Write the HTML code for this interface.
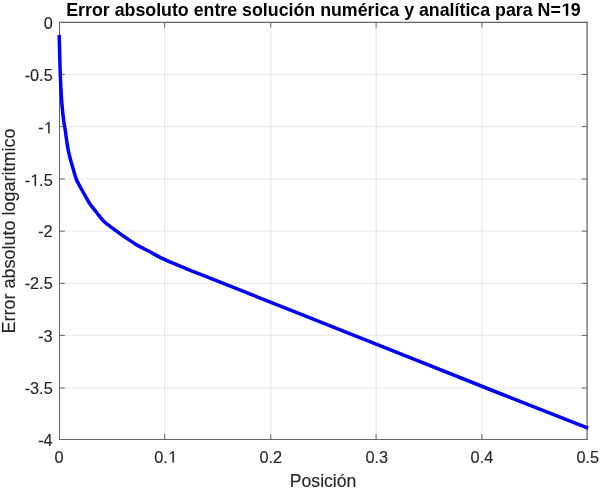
<!DOCTYPE html>
<html><head><meta charset="utf-8"><style>
html,body{margin:0;padding:0;background:#fff;width:600px;height:489px;overflow:hidden}
svg{display:block;filter:blur(0.4px);}
text{font-family:"Liberation Sans",sans-serif}
</style></head><body>
<svg width="600" height="489" viewBox="0 0 600 489">
<rect width="600" height="489" fill="#fff"/>
<g stroke="#646464" stroke-opacity="0.16" stroke-width="1"><line x1="59.5" y1="74.4" x2="587.12" y2="74.4"/><line x1="59.5" y1="126.6" x2="587.12" y2="126.6"/><line x1="59.5" y1="179.0" x2="587.12" y2="179.0"/><line x1="59.5" y1="231.1" x2="587.12" y2="231.1"/><line x1="59.5" y1="283.4" x2="587.12" y2="283.4"/><line x1="59.5" y1="335.4" x2="587.12" y2="335.4"/><line x1="59.5" y1="388.0" x2="587.12" y2="388.0"/><line x1="164.7" y1="22.3" x2="164.7" y2="439.5"/><line x1="270.8" y1="22.3" x2="270.8" y2="439.5"/><line x1="376.1" y1="22.3" x2="376.1" y2="439.5"/><line x1="481.9" y1="22.3" x2="481.9" y2="439.5"/></g>
<path d="M59.5,74.4h5.3M587.12,74.4h-5.3M59.5,126.6h5.3M587.12,126.6h-5.3M59.5,179.0h5.3M587.12,179.0h-5.3M59.5,231.1h5.3M587.12,231.1h-5.3M59.5,283.4h5.3M587.12,283.4h-5.3M59.5,335.4h5.3M587.12,335.4h-5.3M59.5,388.0h5.3M587.12,388.0h-5.3M164.7,439.5v-5.3M164.7,22.3v5.3M270.8,439.5v-5.3M270.8,22.3v5.3M376.1,439.5v-5.3M376.1,22.3v5.3M481.9,439.5v-5.3M481.9,22.3v5.3" stroke="#646464" stroke-width="1.0" fill="none"/>
<g stroke="#646464"><line x1="59.5" y1="21.75" x2="59.5" y2="440" stroke-width="1"/><line x1="59" y1="439.5" x2="587.75" y2="439.5" stroke-width="1"/><line x1="59" y1="22.35" x2="587.75" y2="22.35" stroke-width="1.2"/><line x1="587.12" y1="21.75" x2="587.12" y2="440" stroke-width="1.26"/></g>
<path d="M59.20,34.90 C59.37,41.60 59.52,48.31 59.70,55.00 C59.88,61.68 60.06,68.81 60.30,75.00 C60.51,80.36 60.72,85.00 61.00,90.00 C61.28,95.00 61.57,100.00 62.00,105.00 C62.43,110.00 63.00,115.51 63.60,120.00 C64.09,123.68 64.70,126.66 65.20,130.00 C65.70,133.33 66.10,136.67 66.60,140.00 C67.10,143.34 67.54,146.68 68.20,150.00 C68.87,153.35 69.72,156.68 70.60,160.00 C71.49,163.34 72.50,166.67 73.50,170.00 C74.50,173.34 75.36,177.01 76.60,180.00 C77.68,182.60 78.96,184.53 80.30,187.00 C81.83,189.82 83.64,193.10 85.30,196.00 C86.87,198.75 88.23,201.39 90.00,204.00 C91.85,206.73 94.03,209.27 96.20,212.00 C98.52,214.92 101.01,218.48 103.50,221.00 C105.63,223.15 107.69,224.61 110.00,226.40 C112.50,228.34 115.33,230.29 118.00,232.20 C120.66,234.09 123.17,235.88 126.00,237.80 C129.13,239.93 132.46,242.30 136.00,244.40 C139.77,246.64 143.65,248.50 148.00,250.80 C153.17,253.53 158.24,256.54 165.00,259.70 C174.50,264.14 185.31,268.25 200.00,274.20 L300,313.8 L400,353.6 L500,393.5 L588.0,428.2" fill="none" stroke="#0000ff" stroke-width="3.5" stroke-linejoin="round" stroke-linecap="butt"/>
<g font-size="16.3" fill="#262626" stroke="#262626" stroke-width="0.15"><text id="y0" x="52.7" y="28.74" text-anchor="end">0</text><text id="y1" x="52.7" y="81.14" text-anchor="end">-0.5</text><text id="y2" x="52.7" y="133.34" text-anchor="end">- </text><text id="y3" x="52.7" y="185.74" text-anchor="end">- .5</text><text id="y4" x="52.7" y="236.84" text-anchor="end">-2</text><text id="y5" x="52.7" y="289.34" text-anchor="end">-2.5</text><text id="y6" x="52.7" y="341.54" text-anchor="end">-3</text><text id="y7" x="52.7" y="393.84" text-anchor="end">-3.5</text><text id="y8" x="52.7" y="445.84" text-anchor="end">-4</text><text id="x0" x="59.1" y="462.54" text-anchor="middle">0</text><text id="x1" x="165.6" y="462.54" text-anchor="middle">0. </text><text id="x2" x="270.7" y="462.54" text-anchor="middle">0.2</text><text id="x3" x="376.75" y="462.54" text-anchor="middle">0.3</text><text id="x4" x="481.9" y="462.54" text-anchor="middle">0.4</text><text id="x5" x="587.8" y="462.54" text-anchor="middle">0.5</text></g>
<text id="title" x="323.4" y="15.7" text-anchor="middle" font-size="17.8" font-weight="bold" fill="#000">Error absoluto entre solución numérica y analítica para N= 9</text>
<text x="323.1" y="487.1" text-anchor="middle" font-size="17.6" fill="#262626" stroke="#262626" stroke-width="0.15">Posición</text>
<text transform="translate(15.0,231.0) rotate(-90)" text-anchor="middle" font-size="18.0" fill="#262626" stroke="#262626" stroke-width="0.15">Error absoluto logaritmico</text>
<path transform="translate(43.62,133.34) scale(0.007959,-0.007959)" d="M575,0L575,1237L257,1010L257,1180L590,1409L756,1409L756,0Z" fill="#262626" stroke="#262626" stroke-width="18.8"/><path transform="translate(30.04,185.74) scale(0.007959,-0.007959)" d="M575,0L575,1237L257,1010L257,1180L590,1409L756,1409L756,0Z" fill="#262626" stroke="#262626" stroke-width="18.8"/><path transform="translate(167.86,462.54) scale(0.007959,-0.007959)" d="M575,0L575,1237L257,1010L257,1180L590,1409L756,1409L756,0Z" fill="#262626" stroke="#262626" stroke-width="18.8"/><path transform="translate(560.78,15.70) scale(0.008691,-0.008691)" d="M578,0L578,1170L240,959L240,1180L593,1409L859,1409L859,0Z" fill="#000" stroke="#000" stroke-width="0.0"/>
</svg>
</body></html>
